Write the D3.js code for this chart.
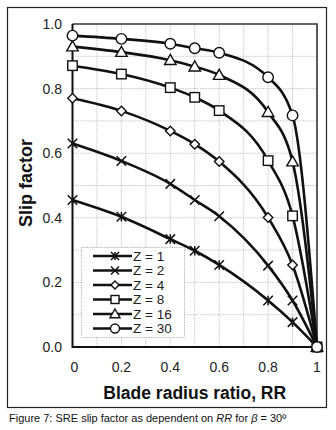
<!DOCTYPE html>
<html>
<head>
<meta charset="utf-8">
<script src="https://cdn.jsdelivr.net/npm/d3@7"></script>
<style>
  body { margin: 0; background: #fff; }
  svg { display: block; font-family: Arial, "Liberation Sans", sans-serif; }
</style>
</head>
<body>
<svg id="chart" width="336" height="430"></svg>
<script>
// blade radius ratio positions of the markers
var rr = [0, 0.2, 0.4, 0.5, 0.6, 0.8, 0.9, 1.0];

// slip factor per blade count
var z1  = [0.455, 0.403, 0.334, 0.298, 0.254, 0.144, 0.077, 0];
var z2  = [0.630, 0.576, 0.505, 0.455, 0.405, 0.252, 0.144, 0];
var z4  = [0.770, 0.731, 0.669, 0.628, 0.574, 0.401, 0.254, 0];
var z8  = [0.871, 0.845, 0.803, 0.773, 0.732, 0.577, 0.406, 0];
var z16 = [0.930, 0.913, 0.888, 0.868, 0.842, 0.727, 0.574, 0];
var z30 = [0.964, 0.954, 0.939, 0.925, 0.911, 0.835, 0.717, 0];

var seriesNames = ['Z = 1', 'Z = 2', 'Z = 4', 'Z = 8', 'Z = 16', 'Z = 30'];
var seriesMarkers = ['star', 'cross', 'diamond', 'square', 'triangle', 'circle'];
var seriesValues = [z1, z2, z4, z8, z16, z30];

var xTicks = [0, 0.2, 0.4, 0.6, 0.8, 1];
var yTicks = [0, 0.2, 0.4, 0.6, 0.8, 1.0];

var svg = d3.select('#chart');

var x = d3.scaleLinear().domain([0, 1]).range([72.5, 317]);
var y = d3.scaleLinear().domain([0, 1]).range([347, 24]);

// outer frame
svg.append('rect').attr('x', 7.5).attr('y', 7.5).attr('width', 319).attr('height', 400)
    .attr('fill', 'none').attr('stroke', '#222').attr('stroke-width', 1.2);

// dotted grid every 0.1
var grid = d3.range(1, 10).map(function (i) { return i / 10; });
svg.append('g').selectAll('line').data(grid).join('line')
    .attr('x1', function (d) { return x(d); }).attr('x2', function (d) { return x(d); })
    .attr('y1', y(0)).attr('y2', y(1))
    .attr('stroke', '#bbb').attr('stroke-width', 0.8).attr('stroke-dasharray', '1.5,1');
svg.append('g').selectAll('line').data(grid).join('line')
    .attr('y1', function (d) { return y(d); }).attr('y2', function (d) { return y(d); })
    .attr('x1', x(0)).attr('x2', x(1))
    .attr('stroke', '#bbb').attr('stroke-width', 0.8).attr('stroke-dasharray', '1.5,1');

// plot frame (top/right lighter, axes heavier)
svg.append('path')
    .attr('d', 'M' + x(0) + ',' + y(1) + 'H' + x(1) + 'V' + y(0))
    .attr('fill', 'none').attr('stroke', '#333').attr('stroke-width', 1.6);
svg.append('path')
    .attr('d', 'M' + x(0) + ',' + y(1) + 'V' + y(0) + 'H' + x(1))
    .attr('fill', 'none').attr('stroke', '#111').attr('stroke-width', 2);

// tick labels
svg.append('g').selectAll('text').data(yTicks).join('text')
    .attr('x', 62).attr('y', function (d) { return y(d); }).attr('dy', '0.36em')
    .attr('text-anchor', 'end').attr('font-size', 14).attr('fill', '#222')
    .text(function (d) { return d3.format('.1f')(d); });
svg.append('g').selectAll('text').data(xTicks).join('text')
    .attr('x', function (d) { return x(d) + (d === 0 ? 2 : 0); }).attr('y', 372)
    .attr('text-anchor', 'middle').attr('font-size', 14).attr('fill', '#222')
    .text(function (d) { return d === 0 || d === 1 ? String(d) : d3.format('.1f')(d); });

// axis titles
svg.append('text').attr('x', (x(0) + x(1)) / 2).attr('y', 399)
    .attr('text-anchor', 'middle').attr('font-size', 17.5).attr('font-weight', 'bold')
    .attr('fill', '#111').text('Blade radius ratio, RR');
svg.append('text').attr('transform', 'translate(32,' + 183 + ') rotate(-90)')
    .attr('text-anchor', 'middle').attr('font-size', 18).attr('font-weight', 'bold')
    .attr('fill', '#111').text('Slip factor');

// caption
var cap = svg.append('text').attr('x', 9).attr('y', 422).attr('font-size', 11).attr('fill', '#111');
cap.append('tspan').text('Figure 7: SRE slip factor as dependent on ');
cap.append('tspan').attr('font-style', 'italic').text('RR');
cap.append('tspan').text(' for ');
cap.append('tspan').attr('font-style', 'italic').text('β');
cap.append('tspan').text(' = 30º');

// marker drawing
function drawMarker(g, type, s) {
    var h = s / 2;
    if (type === 'circle') {
        g.append('circle').attr('r', h + 0.5).attr('fill', '#fff').attr('stroke', '#111').attr('stroke-width', 1.4);
    } else if (type === 'square') {
        g.append('rect').attr('x', -h).attr('y', -h).attr('width', s).attr('height', s)
            .attr('fill', '#fff').attr('stroke', '#111').attr('stroke-width', 1.4);
    } else if (type === 'diamond') {
        g.append('path').attr('d', 'M0,' + (-h) + 'L' + h + ',0L0,' + h + 'L' + (-h) + ',0Z')
            .attr('fill', '#fff').attr('stroke', '#111').attr('stroke-width', 1.4);
    } else if (type === 'triangle') {
        var t = h + 1;
        g.append('path').attr('d', 'M0,' + (-t) + 'L' + t + ',' + (t * 0.75) + 'L' + (-t) + ',' + (t * 0.75) + 'Z')
            .attr('fill', '#fff').attr('stroke', '#111').attr('stroke-width', 1.4);
    } else if (type === 'cross') {
        g.append('path').attr('d', 'M' + (-h) + ',' + (-h) + 'L' + h + ',' + h + 'M' + h + ',' + (-h) + 'L' + (-h) + ',' + h)
            .attr('fill', 'none').attr('stroke', '#111').attr('stroke-width', 1.5);
    } else if (type === 'star') {
        g.append('path').attr('d', 'M' + (-h) + ',' + (-h) + 'L' + h + ',' + h + 'M' + h + ',' + (-h) + 'L' + (-h) + ',' + h + 'M0,' + (-h) + 'V' + h)
            .attr('fill', 'none').attr('stroke', '#111').attr('stroke-width', 1.5);
    }
}

var line = d3.line()
    .x(function (d) { return x(d[0]); })
    .y(function (d) { return y(d[1]); })
    .curve(d3.curveMonotoneX);

// series lines, then markers on top
var series = seriesValues.map(function (vals, i) {
    return { name: seriesNames[i], marker: seriesMarkers[i], pts: rr.map(function (r, j) { return [r, vals[j]]; }) };
});

svg.append('g').selectAll('path').data(series).join('path')
    .attr('d', function (d) { return line(d.pts); })
    .attr('fill', 'none').attr('stroke', '#111').attr('stroke-width', 2.6);

series.forEach(function (s) {
    s.pts.forEach(function (p) {
        var g = svg.append('g').attr('transform', 'translate(' + x(p[0]) + ',' + y(p[1]) + ')');
        drawMarker(g, s.marker, 9.5);
    });
});

// legend
var lg = svg.append('g');
lg.append('rect').attr('x', 81.5).attr('y', 247.5).attr('width', 103).attr('height', 90)
    .attr('fill', '#fff').attr('stroke', '#aaa').attr('stroke-width', 0.8).attr('stroke-dasharray', '1.5,1');
series.forEach(function (s, i) {
    var yy = 256 + i * 14.5;
    lg.append('line').attr('x1', 93).attr('x2', 132).attr('y1', yy).attr('y2', yy)
        .attr('stroke', '#111').attr('stroke-width', 2.6);
    drawMarker(lg.append('g').attr('transform', 'translate(115,' + yy + ')'), s.marker, 8);
    lg.append('text').attr('x', 133).attr('y', yy).attr('dy', '0.36em')
        .attr('font-size', 13.5).attr('fill', '#222').text(s.name);
});
</script>
</body>
</html>
